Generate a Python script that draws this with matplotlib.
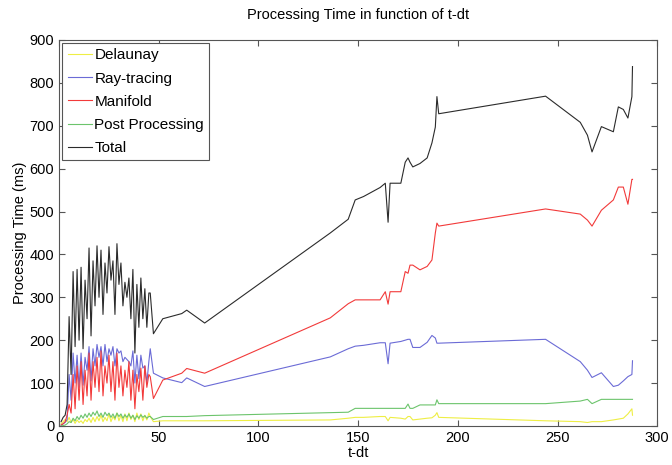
import matplotlib.pyplot as plt
import numpy as np

plt.rcParams['font.family'] = ['Liberation Sans', 'DejaVu Sans']

# Data (t-dt vs processing time in ms)
t_dt = [1, 2, 3, 4, 5, 6, 7, 8, 9, 10, 11, 12, 13, 14, 15, 16, 17, 18, 19, 20,
        21, 22, 23, 24, 25, 26, 27, 28, 29, 30, 31, 32, 33, 34, 35, 36, 37, 38,
        39, 40, 41, 42, 43, 44, 45, 45.7, 47.3, 52, 61.5, 64, 73, 136, 145,
        148.5, 152.7, 161, 163.6, 165, 166, 171.4, 173.6, 175, 176, 177.4, 181,
        184.6, 187, 188.7, 189.5, 190.4, 244, 261.4, 265, 267.3, 272, 278,
        280.5, 283, 285.3, 287.3, 287.6]

delaunay = [5, 10, 15, 10, 20, 8, 15, 6, 14, 8, 12, 6, 15, 10, 18, 8, 20, 10,
            22, 12, 25, 10, 20, 12, 28, 10, 22, 14, 30, 12, 25, 10, 28, 12, 30,
            15, 25, 10, 30, 15, 28, 12, 25, 14, 30, 22, 10, 12, 12, 12, 12, 14,
            18, 20, 20, 22, 22, 12, 20, 18, 16, 22, 22, 14, 16, 18, 19, 25, 31,
            20, 12, 10, 8, 10, 10, 14, 16, 18, 28, 40, 25]

ray_tracing = [2, 5, 8, 15, 120, 60, 170, 100, 165, 90, 170, 95, 160, 130,
               185, 105, 180, 140, 190, 160, 185, 140, 190, 150, 180, 165, 185,
               140, 180, 170, 175, 150, 160, 155, 150, 140, 175, 100, 165, 110,
               165, 135, 140, 100, 150, 180, 123, 112, 101, 112, 92, 161, 180,
               186, 188, 194, 194, 145, 193, 197, 200, 202, 202, 183, 183, 195,
               211, 205, 193, 193, 202, 150, 130, 113, 124, 92, 95, 105, 115,
               120, 152]

manifold = [2, 5, 10, 25, 50, 30, 120, 40, 140, 60, 150, 50, 130, 70, 170, 60,
            150, 90, 160, 80, 175, 70, 140, 100, 165, 80, 150, 60, 170, 90, 140,
            70, 130, 90, 150, 60, 130, 40, 120, 80, 135, 60, 140, 90, 120, 115,
            64, 107, 123, 134, 123, 252, 285, 294, 294, 294, 313, 284, 313, 313,
            360, 356, 375, 375, 364, 372, 387, 450, 473, 466, 506, 494, 480,
            466, 503, 527, 557, 557, 517, 575, 575]

post_processing = [0, 1, 2, 5, 10, 8, 18, 12, 22, 15, 25, 18, 28, 20, 30, 22,
                   32, 25, 35, 22, 30, 20, 32, 24, 30, 20, 28, 18, 30, 22, 28,
                   18, 26, 20, 28, 18, 25, 15, 24, 18, 26, 20, 24, 18, 22, 22,
                   15, 22, 22, 22, 24, 31, 32, 41, 41, 41, 41, 41, 41, 41, 41,
                   51, 41, 41, 49, 49, 49, 49, 61, 52, 52, 58, 62, 52, 62, 62,
                   62, 62, 62, 62, 62]

total = [10, 20, 25, 50, 255, 120, 360, 185, 365, 200, 370, 180, 340, 250, 415,
         210, 385, 280, 420, 300, 410, 260, 380, 310, 418, 340, 385, 260, 425,
         330, 380, 280, 335, 300, 345, 250, 365, 170, 330, 230, 345, 250, 320,
         230, 310, 310, 215, 250, 262, 270, 240, 450, 482, 527, 535, 556, 566,
         475, 566, 566, 615, 625, 615, 604, 612, 625, 660, 697, 768, 728, 769,
         708, 678, 639, 698, 686, 744, 738, 718, 768, 838]

series_names = ['Delaunay', 'Ray-tracing', 'Manifold', 'Post Processing', 'Total']
series_colors = ['#eeee44', '#6b6bd6', '#f23a3a', '#6cc46c', '#2b2b2b']

fig = plt.figure(figsize=(6.72, 4.65), dpi=100)
ax = fig.add_axes([0.088, 0.084, 0.89, 0.83])

x = np.array(t_dt)
for values, name, color in zip([delaunay, ray_tracing, manifold, post_processing, total],
                               series_names, series_colors):
    ax.plot(x, values, color=color, linewidth=0.8, label=name)

ax.set_xlim(0, 300)
ax.set_ylim(0, 900)
ax.set_xticks(np.arange(0, 301, 50))
ax.set_yticks(np.arange(0, 901, 100))
ax.tick_params(direction='in', top=True, right=True, labelsize=10.5, length=4,
               color='#555555')
for spine in ax.spines.values():
    spine.set_color('#555555')
    spine.set_linewidth(0.8)

ax.set_title('Processing Time in function of t-dt', fontsize=10.5, pad=15)
ax.set_xlabel('t-dt', fontsize=10.5, labelpad=1)
ax.set_ylabel('Processing Time (ms)', fontsize=10.5, labelpad=2)

leg = ax.legend(loc='upper left', fontsize=11, fancybox=False, handlelength=1.6,
                handletextpad=0.15, borderaxespad=0.2, labelspacing=0.6,
                borderpad=0.35, framealpha=1)
leg.get_frame().set_edgecolor('#555555')
leg.get_frame().set_linewidth(0.8)

fig.savefig('out.png', dpi=100)
